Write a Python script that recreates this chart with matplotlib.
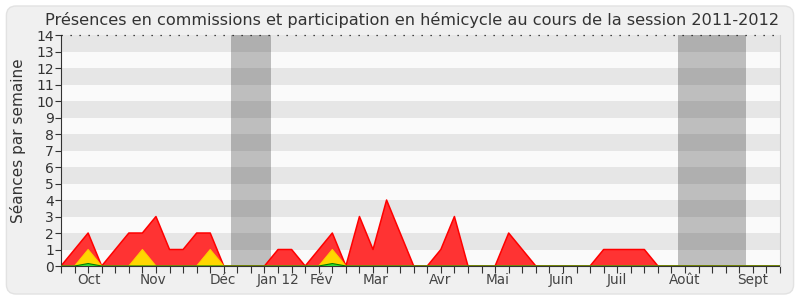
import matplotlib
matplotlib.use("Agg")
import matplotlib.pyplot as plt
from matplotlib.patches import FancyBboxPatch
import numpy as np

weeks = list(range(54))
red = [0, 1, 2, 0, 1, 2, 2, 3, 1, 1, 2, 2, 0, 0, 0, 0, 1, 1, 0, 1,
       2, 0, 3, 1, 4, 2, 0, 0, 1, 3, 0, 0, 0, 2, 1, 0, 0, 0, 0, 0,
       1, 1, 1, 1, 0, 0, 0, 0, 0, 0, 0, 0, 0, 0]
yellow = [0, 0, 1, 0, 0, 0, 1, 0, 0, 0, 0, 1, 0, 0, 0, 0, 0, 0, 0, 0,
          1, 0, 0, 0, 0, 0, 0, 0, 0, 0, 0, 0, 0, 0, 0, 0, 0, 0, 0, 0,
          0, 0, 0, 0, 0, 0, 0, 0, 0, 0, 0, 0, 0, 0]
green = [0, 0, 0.15, 0, 0, 0, 0, 0, 0, 0, 0, 0, 0, 0, 0, 0, 0, 0, 0, 0,
         0.15, 0, 0, 0, 0, 0, 0, 0, 0, 0, 0, 0, 0, 0, 0, 0, 0, 0, 0, 0,
         0, 0, 0, 0, 0, 0, 0, 0, 0, 0, 0, 0, 0, 0]
vacations = [(12.5, 15.5), (45.5, 50.5)]
month_labels = ["Oct", "Nov", "Déc", "Jan 12", "Fév", "Mar", "Avr", "Mai",
                "Juin", "Juil", "Août", "Sept"]
month_pos = [2.1, 6.8, 11.9, 16.0, 19.2, 23.2, 27.95, 32.2, 36.9, 41.0, 46.0, 51.0]
y_ticks = list(range(15))
title = "Présences en commissions et participation en hémicycle au cours de la session 2011-2012"
ylabel = "Séances par semaine"

plt.rcParams['font.family'] = ['DejaVu Sans']
fig = plt.figure(figsize=(8, 3), dpi=100)
fig.patch.set_facecolor("white")
bg = FancyBboxPatch((0.008, 0.02), 0.984, 0.96, boxstyle="round,pad=0,rounding_size=0.012",
                    transform=fig.transFigure, facecolor="#f0f0f0", edgecolor="#e2e2e2",
                    linewidth=1.0, zorder=-10, mutation_aspect=800/300)
fig.patches.append(bg)

ax = fig.add_axes([0.07625, 0.1133, 0.975 - 0.07625, 0.8833 - 0.1133])
ax.set_facecolor("#fafafa")
ax.set_xlim(0, 53)
ax.set_ylim(0, 14)

for a, b in vacations:
    ax.axvspan(a, b, color="#bebebe", zorder=0, linewidth=0)
for k in range(1, 14, 2):
    ax.axhspan(k, k + 1, color="black", alpha=0.08, zorder=0.5, linewidth=0)

ax.fill_between(weeks, red, 0, facecolor="#ff3333", edgecolor="none", zorder=2)
ax.plot(weeks, red, color="#ff0000", linewidth=1.1, zorder=2.1)
ax.fill_between(weeks, yellow, 0, facecolor="#ffd700", edgecolor="none", zorder=3)
ax.plot(weeks, yellow, color="#ffcc00", linewidth=0.8, zorder=3.1)
ax.fill_between(weeks, green, 0, facecolor="#33dd33", edgecolor="none", zorder=4)
ax.plot(weeks, green, color="#008000", linewidth=0.8, zorder=4.1)

ax.axhline(14, color="#111111", linewidth=0.9, linestyle=(0, (1, 6.2)), zorder=5, clip_on=False)

ax.spines["top"].set_visible(False)
ax.spines["right"].set_color("#cccccc")
ax.spines["right"].set_linewidth(0.8)
ax.spines["left"].set_color("#333333")
ax.spines["left"].set_linewidth(0.8)
ax.spines["bottom"].set_color("#333333")
ax.spines["bottom"].set_linewidth(0.8)
ax.spines["bottom"].set_zorder(1)

ax.set_yticks(y_ticks)
ax.set_yticklabels([str(v) for v in y_ticks], fontsize=10, color="#333333")
ax.tick_params(axis="y", length=4, width=0.8, color="#333333", pad=1)

ax.set_xticks(weeks)
ax.set_xticklabels([])
ax.tick_params(axis="x", which="major", length=5, width=0.8, color="#333333")
for pos, lab in zip(month_pos, month_labels):
    ax.text(pos, -0.03, lab, transform=ax.get_xaxis_transform(), ha="center", va="top",
            fontsize=9.8, color="#444444")

fig.text(0.0225, 0.53, ylabel, rotation=90, ha="center", va="center", fontsize=11, color="#333333")
fig.text(0.515, 0.932, title, ha="center", va="center", fontsize=11.6, color="#333333")

fig.savefig("out.png", dpi=100, facecolor=fig.get_facecolor())
